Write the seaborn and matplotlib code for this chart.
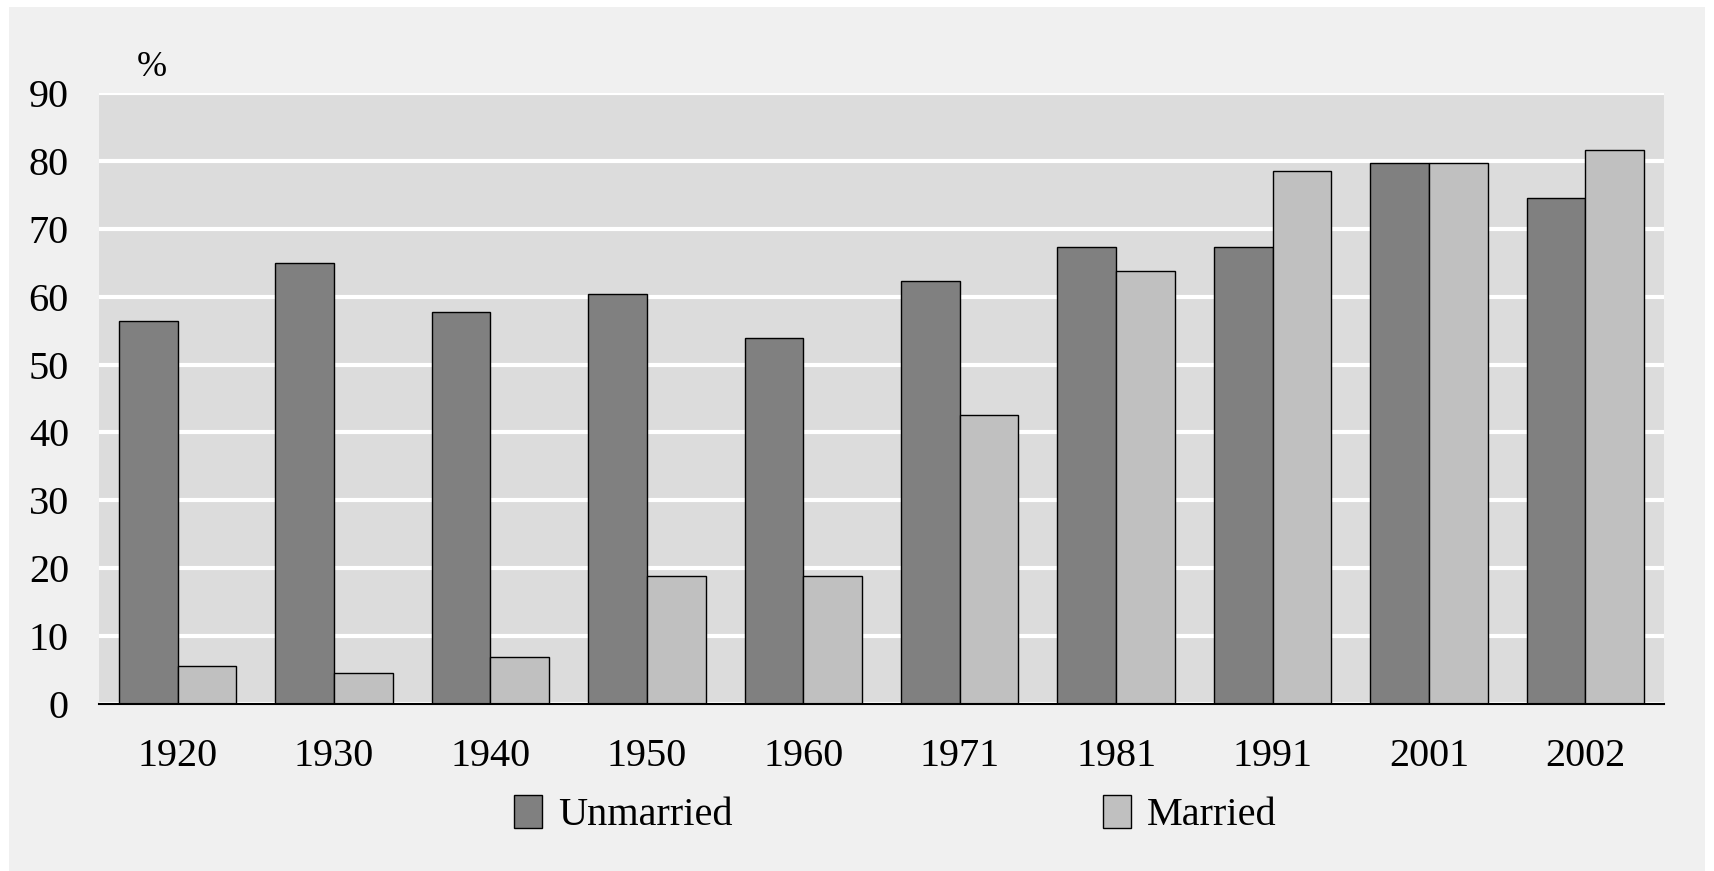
import pandas as pd
import matplotlib
matplotlib.use("Agg")
import matplotlib.pyplot as plt
from matplotlib.patches import Rectangle
import seaborn as sns

# Data (percent)
years = ["1920", "1930", "1940", "1950", "1960", "1971", "1981", "1991", "2001", "2002"]
unmarried = [56.4, 64.9, 57.8, 60.4, 53.9, 62.3, 67.3, 67.3, 79.7, 74.6]
married = [5.5, 4.5, 6.9, 18.8, 18.8, 42.5, 63.8, 78.6, 79.7, 81.6]
series = ["Unmarried", "Married"]
yticks = [0, 10, 20, 30, 40, 50, 60, 70, 80, 90]

df = pd.DataFrame({
    "year": years * 2,
    "value": unmarried + married,
    "group": [series[0]] * len(years) + [series[1]] * len(years),
})

sns.set_theme(style="white")
plt.rcParams["font.family"] = ["Liberation Serif", "DejaVu Serif"]
plt.rcParams["text.color"] = "black"

fig = plt.figure(figsize=(17.15, 8.71), dpi=100, facecolor="white")
# light grey panel behind everything
fig.patches.append(Rectangle((0.005, 0.0), 0.989, 0.992, transform=fig.transFigure,
                             facecolor="#f0f0f0", edgecolor="none", zorder=-5))

ax = fig.add_axes([0.058, 0.192, 0.912, 0.701])
ax.set_facecolor("#dcdcdc")

sns.barplot(data=df, x="year", y="value", hue="group", hue_order=series,
            palette=["#808080", "#c0c0c0"], width=0.75, gap=0,
            edgecolor="black", linewidth=1.0, saturation=1, ax=ax, zorder=3)

ax.set_ylim(0, 90)
ax.set_yticks(yticks)
ax.yaxis.grid(True, color="white", linewidth=3)
ax.set_axisbelow(True)
ax.set_xlim(-0.5, len(years) - 0.5)

for s in ["top", "right", "left"]:
    ax.spines[s].set_visible(False)
ax.spines["bottom"].set_color("black")
ax.spines["bottom"].set_linewidth(1.5)
ax.spines["bottom"].set_zorder(4)

ax.tick_params(axis="both", length=0, labelsize=29, colors="black")
ax.tick_params(axis="x", pad=25)
ax.tick_params(axis="y", pad=22)
ax.set_xlabel("")
ax.set_ylabel("")

ax.text(0.024, 1.015, "%", transform=ax.transAxes, fontsize=26, ha="left", va="bottom")

handles, labels = ax.get_legend_handles_labels()
ax.get_legend().remove()
fig.legend(handles, labels, loc="center", bbox_to_anchor=(0.522, 0.065), ncol=2,
           frameon=False, fontsize=29, handlelength=0.7, handleheight=0.9,
           handletextpad=0.4, columnspacing=9.2, labelcolor="black")

fig.savefig("out.png", dpi=100, facecolor=fig.get_facecolor())
